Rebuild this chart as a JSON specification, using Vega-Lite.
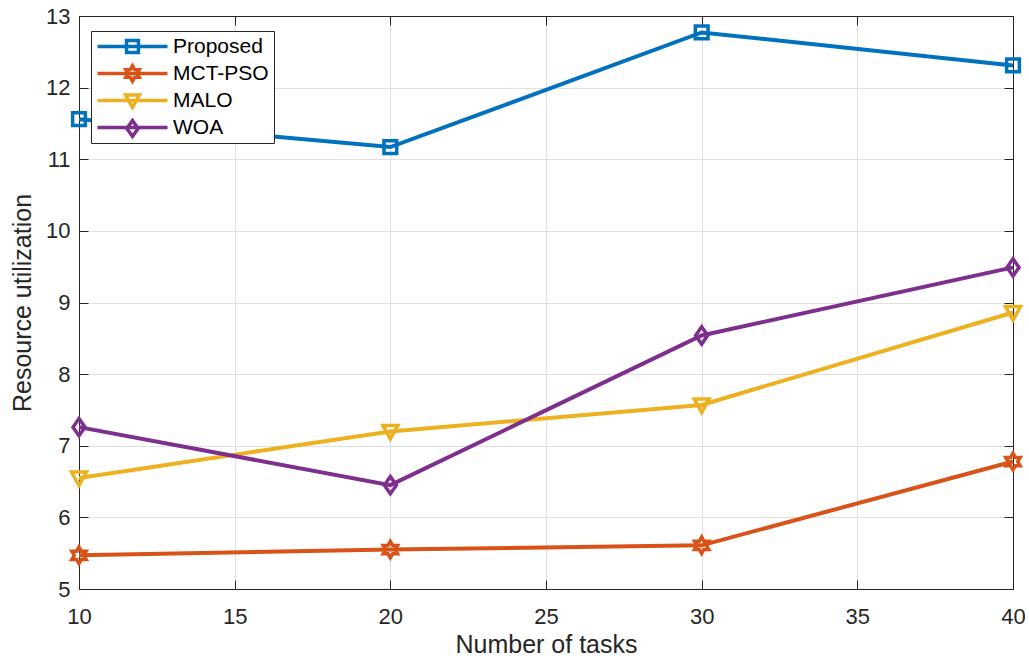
{
  "$schema": "https://vega.github.io/schema/vega-lite/v6.json",
  "width": 934,
  "height": 573,
  "autosize": "none",
  "padding": {"left": 79, "top": 16, "right": 16, "bottom": 73},
  "background": "white",
  "config": {
    "font": "Liberation Sans",
    "view": {"stroke": "#262626", "strokeWidth": 1},
    "axis": {
      "domainColor": "#262626",
      "tickColor": "#262626",
      "gridColor": "#e0e0e0",
      "gridWidth": 1,
      "labelColor": "#262626",
      "titleColor": "#262626",
      "labelFont": "Liberation Sans",
      "titleFont": "Liberation Sans",
      "labelFontSize": 22,
      "titleFontSize": 25,
      "titleFontWeight": "normal",
      "labelFlush": false
    },
    "legend": {
      "labelFont": "Liberation Sans",
      "labelFontSize": 21,
      "labelColor": "#000000",
      "title": null,
      "orient": "none",
      "legendX": 12,
      "legendY": 15,
      "padding": 5,
      "cornerRadius": 0,
      "symbolStrokeWidth": 3.5,
      "symbolSize": 196,
      "symbolOffset": 26,
      "labelOffset": 30
    }
  },
  "data": {
    "values": [
      {"tasks": 10, "series": "Proposed", "value": 11.56},
      {"tasks": 20, "series": "Proposed", "value": 11.17},
      {"tasks": 30, "series": "Proposed", "value": 12.77},
      {"tasks": 40, "series": "Proposed", "value": 12.31},
      {"tasks": 10, "series": "MCT-PSO", "value": 5.47},
      {"tasks": 20, "series": "MCT-PSO", "value": 5.55},
      {"tasks": 30, "series": "MCT-PSO", "value": 5.61},
      {"tasks": 40, "series": "MCT-PSO", "value": 6.78},
      {"tasks": 10, "series": "MALO", "value": 6.55},
      {"tasks": 20, "series": "MALO", "value": 7.2},
      {"tasks": 30, "series": "MALO", "value": 7.57},
      {"tasks": 40, "series": "MALO", "value": 8.86},
      {"tasks": 10, "series": "WOA", "value": 7.26},
      {"tasks": 20, "series": "WOA", "value": 6.45},
      {"tasks": 30, "series": "WOA", "value": 8.54},
      {"tasks": 40, "series": "WOA", "value": 9.49}
    ]
  },
  "resolve": {
    "axis": {"x": "independent", "y": "independent"},
    "legend": {"color": "independent", "shape": "independent"}
  },
  "layer": [
    {
      "mark": {"type": "line", "strokeWidth": 4},
      "encoding": {
        "x": {
          "field": "tasks", "type": "quantitative",
          "scale": {"domain": [10, 40], "nice": false},
          "axis": {
            "orient": "bottom",
            "values": [10, 15, 20, 25, 30, 35, 40],
            "grid": true,
            "tickSize": -9,
            "labelPadding": 26,
            "title": "Number of tasks",
            "titlePadding": 5
          }
        },
        "y": {
          "field": "value", "type": "quantitative",
          "scale": {"domain": [5, 13], "nice": false, "zero": false},
          "axis": {
            "orient": "left",
            "values": [5, 6, 7, 8, 9, 10, 11, 12, 13],
            "grid": true,
            "tickSize": -9,
            "labelPadding": 18,
            "title": "Resource utilization",
            "titlePadding": 10
          }
        },
        "color": {
          "field": "series", "type": "nominal",
          "scale": {
            "domain": ["Proposed", "MCT-PSO", "MALO", "WOA"],
            "range": ["#0072BD", "#D95319", "#EDB120", "#7E2F8E"]
          },
          "legend": {
            "symbolType": "M-5,0H5",
            "strokeColor": "#262626",
            "fillColor": "white",
            "rowPadding": 5
          }
        },
        "detail": {"field": "series"}
      }
    },
    {
      "mark": {"type": "point", "filled": false, "strokeWidth": 3.5, "size": 225, "opacity": 1},
      "encoding": {
        "x": {"field": "tasks", "type": "quantitative", "axis": null},
        "y": {"field": "value", "type": "quantitative", "axis": null},
        "color": {
          "field": "series", "type": "nominal",
          "scale": {
            "domain": ["Proposed", "MCT-PSO", "MALO", "WOA"],
            "range": ["#0072BD", "#D95319", "#EDB120", "#7E2F8E"]
          },
          "legend": {
            "strokeColor": "transparent",
            "fillColor": "transparent",
            "labelExpr": "''",
            "rowPadding": -2
          }
        },
        "shape": {
          "field": "series", "type": "nominal",
          "scale": {
            "domain": ["Proposed", "MCT-PSO", "MALO", "WOA"],
            "range": [
              "M-0.85,-0.85H0.85V0.85H-0.85Z",
              "M0,-1.1L0.32,-0.55L0.95,-0.55L0.63,0L0.95,0.55L0.32,0.55L0,1.1L-0.32,0.55L-0.95,0.55L-0.63,0L-0.95,-0.55L-0.32,-0.55Z",
              "M-1,-0.8H1L0,1Z",
              "M0,-1.15L0.8,0L0,1.15L-0.8,0Z"
            ]
          },
          "legend": {
            "strokeColor": "transparent",
            "fillColor": "transparent",
            "labelExpr": "''",
            "rowPadding": -2
          }
        }
      }
    },
    {
      "mark": {"type": "point", "opacity": 0, "size": 1},
      "encoding": {
        "x": {
          "field": "tasks", "type": "quantitative",
          "axis": {
            "orient": "top",
            "values": [10, 15, 20, 25, 30, 35, 40],
            "grid": false,
            "labels": false,
            "tickSize": -9,
            "title": null
          }
        },
        "y": {
          "field": "value", "type": "quantitative",
          "axis": {
            "orient": "right",
            "values": [5, 6, 7, 8, 9, 10, 11, 12, 13],
            "grid": false,
            "labels": false,
            "tickSize": -9,
            "title": null
          }
        }
      }
    }
  ]
}
